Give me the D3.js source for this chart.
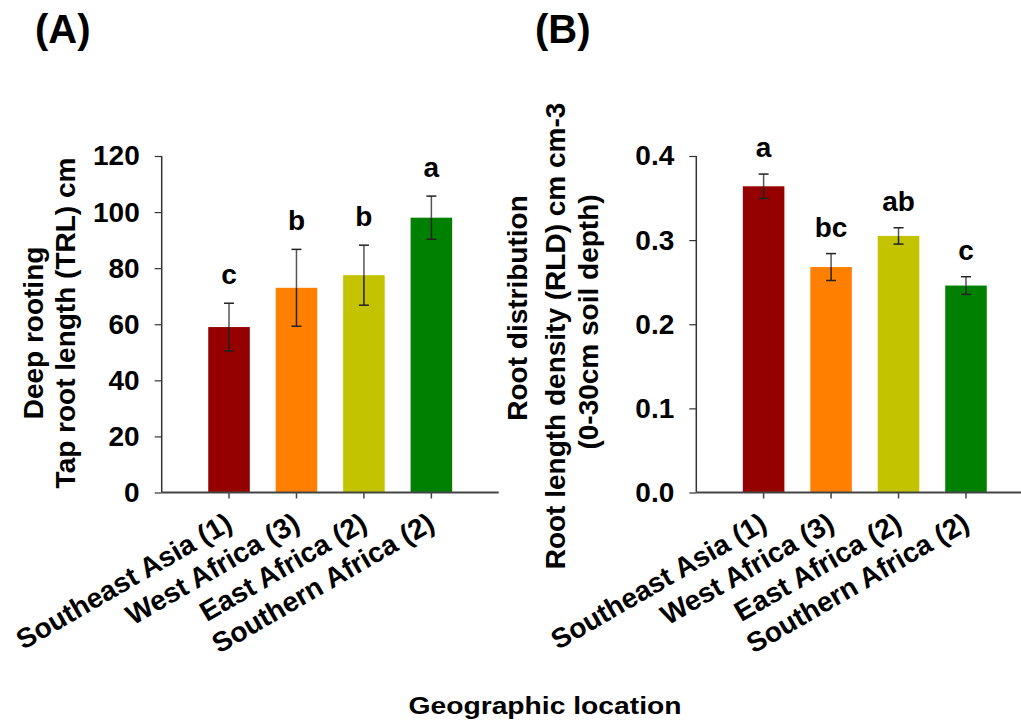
<!DOCTYPE html>
<html>
<head>
<meta charset="utf-8">
<script src="https://cdn.jsdelivr.net/npm/d3@7"></script>
<style>
  html, body { margin: 0; padding: 0; background: #fff; }
  svg { display: block; font-family: "Liberation Sans", Arial, sans-serif; }
</style>
</head>
<body>
<div id="chart"></div>
<script>
// ---- data ----
const categories = ['Southeast Asia (1)', 'West Africa (3)', 'East Africa (2)', 'Southern Africa (2)'];
const barColors = ['#950000', '#ff8000', '#c3c300', '#008000'];

// (A) tap root length, cm
const trlMeans = [59, 73, 77.5, 98];
const trlErrors = [8.5, 13.7, 10.7, 7.7];
const trlLetters = ['c', 'b', 'b', 'a'];
const trlTicks = [0, 20, 40, 60, 80, 100, 120];

// (B) root length density, cm cm-3
const rldMeans = [0.364, 0.268, 0.305, 0.246];
const rldErrors = [0.0145, 0.016, 0.0097, 0.0105];
const rldLetters = ['a', 'bc', 'ab', 'c'];
const rldTicks = [0, 0.1, 0.2, 0.3, 0.4];

(function () {
  const W = 1021, H = 728;
  const svg = d3.select('#chart').append('svg')
    .attr('width', W).attr('height', H)
    .attr('viewBox', `0 0 ${W} ${H}`);

  const FONT = 28;
  const top = 156, bottom = 492.5;

  function drawPanel(opts) {
    const g = svg.append('g');
    const x = d3.scaleBand()
      .domain(categories)
      .range([opts.x0, opts.x0 + 337])
      .paddingInner(0.384)
      .paddingOuter(0.69);
    const y = d3.scaleLinear()
      .domain([0, d3.max(opts.ticks)])
      .range([bottom, top]);

    const rows = categories.map((c, i) => ({
      cat: c, mean: opts.means[i], err: opts.errors[i], letter: opts.letters[i], color: barColors[i]
    }));
    const cx = d => x(d.cat) + x.bandwidth() / 2;

    // bars
    g.selectAll('.bar')
      .data(rows)
      .enter()
      .append('rect')
      .attr('x', d => x(d.cat)).attr('width', x.bandwidth())
      .attr('y', d => y(d.mean)).attr('height', d => y(0) - y(d.mean))
      .attr('fill', d => d.color);

    // error bars (stem a bit lighter above the bar, as in the original)
    const eb = g.selectAll('.err')
      .data(rows)
      .enter()
      .append('g')
      .attr('stroke-width', 1.5);
    eb.append('line')
      .attr('stroke', '#555')
      .attr('x1', cx).attr('x2', cx)
      .attr('y1', d => y(d.mean + d.err)).attr('y2', d => y(d.mean));
    eb.append('line')
      .attr('stroke', '#222')
      .attr('x1', cx).attr('x2', cx)
      .attr('y1', d => y(d.mean)).attr('y2', d => y(d.mean - d.err));
    [1, -1].forEach(s => {
      eb.append('line')
        .attr('stroke', '#222')
        .attr('x1', d => cx(d) - 5).attr('x2', d => cx(d) + 5)
        .attr('y1', d => y(d.mean + s * d.err))
        .attr('y2', d => y(d.mean + s * d.err));
    });

    // significance letters
    g.selectAll('.letter')
      .data(rows)
      .enter()
      .append('text')
      .attr('x', cx)
      .attr('y', d => y(d.mean + d.err) - opts.letterGap)
      .attr('text-anchor', 'middle')
      .style('font-size', FONT + 'px')
      .style('font-weight', 'bold')
      .style('fill', '#000')
      .text(d => d.letter);

    // y axis
    const yAxis = g.append('g')
      .attr('transform', `translate(${opts.x0},0)`)
      .call(d3.axisLeft(y).tickValues(opts.ticks).tickFormat(opts.fmt).tickSize(7).tickPadding(15));
    yAxis.select('.domain').attr('stroke', '#333').attr('stroke-width', 1.5).attr('d', `M0,${top}V${bottom}`);
    yAxis.selectAll('.tick line').attr('stroke', '#333').attr('stroke-width', 1.2);
    yAxis.selectAll('.tick text')
      .style('font-size', FONT + 'px').style('font-weight', 'bold')
      .style('font-family', '"Liberation Sans", Arial, sans-serif').attr('fill', '#000');

    // x axis
    const xAxis = g.append('g')
      .attr('transform', `translate(0,${bottom})`)
      .call(d3.axisBottom(x).tickSize(6).tickFormat(''));
    xAxis.select('.domain').attr('stroke', '#444').attr('stroke-width', 2).attr('d', `M${opts.x0},0H${opts.x0 + 337}`);
    xAxis.selectAll('.tick line').attr('stroke', '#444').attr('stroke-width', 1.5);

    // rotated category labels
    g.selectAll('.cat')
      .data(rows)
      .enter()
      .append('text')
      .attr('transform', d => `translate(${cx(d) + 5},${bottom + 36}) rotate(-30)`)
      .attr('text-anchor', 'end')
      .style('font-size', FONT + 'px')
      .style('font-weight', 'bold')
      .text(d => d.cat);

    // y-axis title lines
    opts.titleLines.forEach(t => {
      g.append('text')
        .attr('transform', `translate(${t.x},${t.cy}) rotate(-90)`)
        .attr('text-anchor', 'middle')
        .style('font-size', FONT + 'px')
        .style('font-weight', 'bold')
        .text(t.text);
    });

    // panel letter
    g.append('text')
      .attr('x', opts.labelX).attr('y', 43)
      .style('font-size', '40px')
      .style('font-weight', 'bold')
      .text(opts.label);
  }

  drawPanel({
    x0: 161.7, means: trlMeans, errors: trlErrors, letters: trlLetters,
    ticks: trlTicks, fmt: d3.format('d'), letterGap: 19, label: '(A)', labelX: 35,
    titleLines: [
      { text: 'Deep rooting', x: 43, cy: 333 },
      { text: 'Tap root length (TRL) cm', x: 75, cy: 323 }
    ]
  });

  drawPanel({
    x0: 696.3, means: rldMeans, errors: rldErrors, letters: rldLetters,
    ticks: rldTicks, fmt: d3.format('.1f'), letterGap: 17, label: '(B)', labelX: 535,
    titleLines: [
      { text: 'Root distribution', x: 527, cy: 308 },
      { text: 'Root length density (RLD) cm cm-3', x: 565, cy: 336 },
      { text: '(0-30cm soil depth)', x: 598, cy: 322 }
    ]
  });

  svg.append('text')
    .attr('x', 545).attr('y', 714)
    .attr('text-anchor', 'middle')
    .attr('textLength', 273)
    .attr('lengthAdjust', 'spacingAndGlyphs')
    .style('font-size', '23px')
    .style('font-weight', 'bold')
    .text('Geographic location');
})();
</script>
</body>
</html>
